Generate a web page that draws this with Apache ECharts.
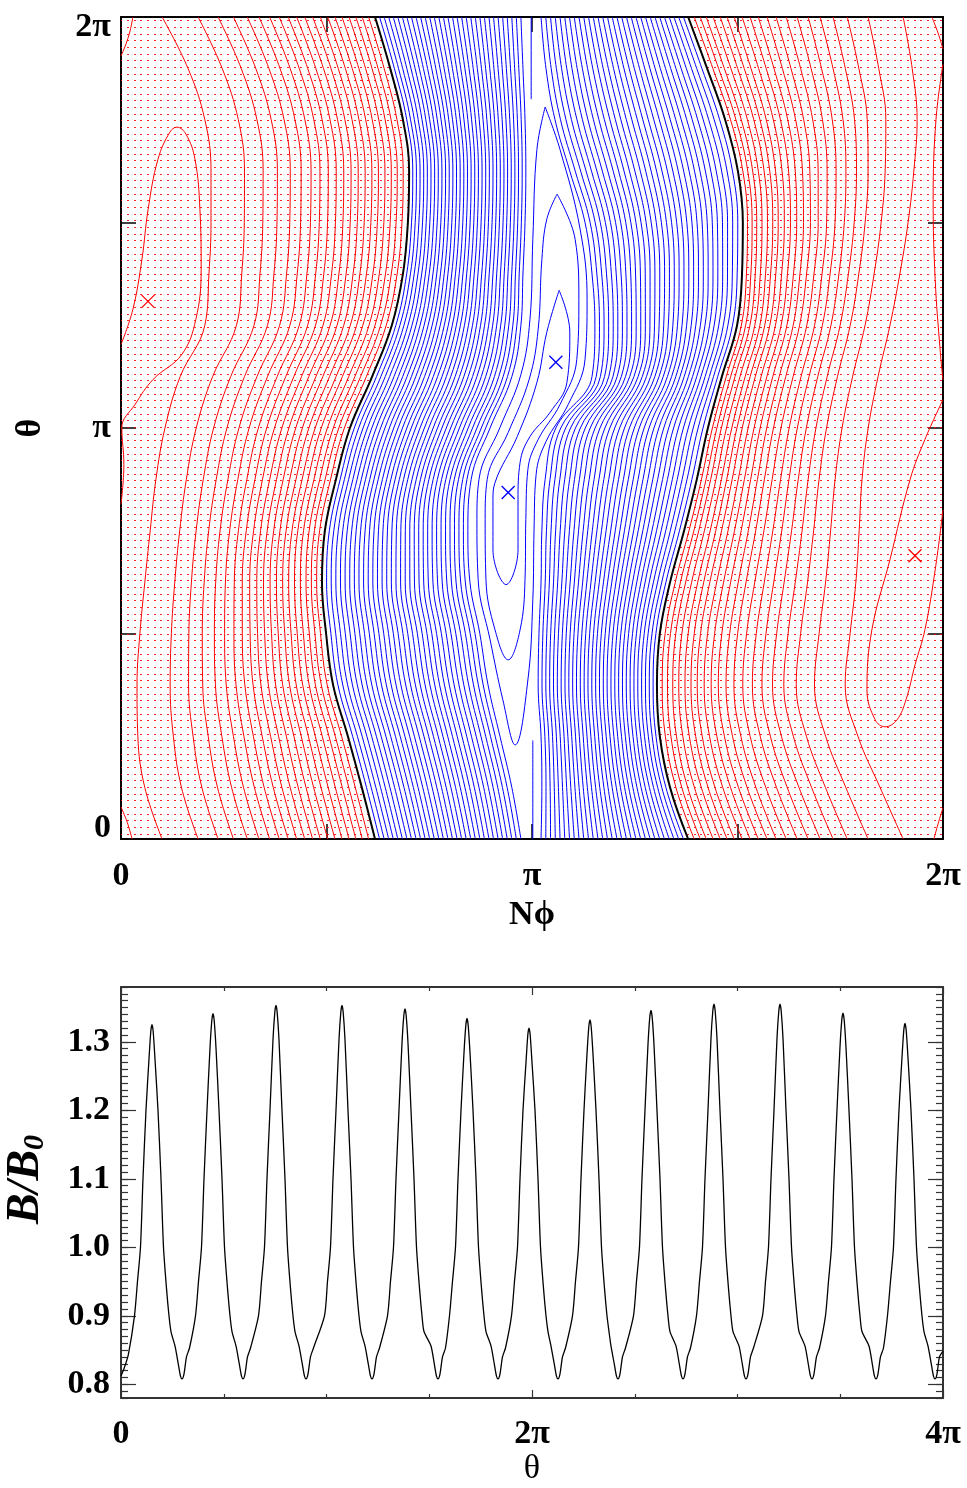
<!DOCTYPE html>
<html><head><meta charset="utf-8">
<script src="https://cdn.jsdelivr.net/npm/echarts@6/dist/echarts.min.js"></script>
<style>html,body{margin:0;padding:0;background:#fff}#c{width:967px;height:1488px}</style>
</head><body><div id="c"></div>
<script>
// ---------------- TOP PANEL DATA (Nphi/pi, theta/pi) ----------------
const thetaSamples = [0,0.125,0.25,0.375,0.5,0.625,0.75,0.875,1,1.125,1.25,1.375,1.5,1.625,1.75,1.875,2];
const sepLeft  = [0.618,0.586,0.552,0.516,0.499,0.489,0.496,0.523,0.557,0.611,0.659,0.686,0.698,0.701,0.686,0.655,0.618];
const sepRight = [1.380,1.336,1.311,1.304,1.311,1.336,1.370,1.401,1.428,1.462,1.499,1.511,1.513,1.501,1.470,1.426,1.380];
const blueInnerLeft  = [0.973,0.951,0.922,0.893,0.873,0.849,0.844,0.852,0.898,0.951,0.973,0.978,0.983,0.985,0.983,0.978,0.973];
const blueInnerRight = [1.022,1.024,1.022,1.015,1.017,1.022,1.024,1.032,1.058,1.146,1.153,1.146,1.129,1.092,1.056,1.034,1.022];
const redOuterLeft  = [0.100,0.058,0.041,0.039,0.046,0.058,0.071,0.085,0.107,0.144,0.204,0.214,0.219,0.219,0.204,0.163,0.100];
const redOuterRight = [1.903,1.847,1.793,1.762,1.774,1.788,1.796,1.803,1.818,1.842,1.871,1.895,1.915,1.929,1.937,1.925,1.903];
const blueLevelsLeft = 32;   // contour count between left separatrix and inner left line
const blueLevelsRight = 31;
const redFracLeft  = [0.03,0.06,0.09,0.122,0.155,0.188,0.222,0.257,0.293,0.33,0.368,0.408,0.45,0.495,0.545,0.60,0.665,0.737,0.831,1.0];
const redFracRight = [0.028,0.056,0.084,0.116,0.149,0.181,0.214,0.251,0.288,0.326,0.367,0.409,0.456,0.507,0.558,0.614,0.674,0.74,0.837,1.0];
const blueLoops = [
  [[1.066,1.335],[1.092,1.233],[1.085,1.111],[1.044,1.038],[0.995,0.979],[0.971,0.916],[0.966,0.826],[0.966,0.704],[0.937,0.619],[0.905,0.704],[0.905,0.826],[0.910,0.867],[0.964,0.979],[1.012,1.111],[1.036,1.233],[1.066,1.335]],
  [[1.061,1.569],[1.105,1.459],[1.114,1.313],[1.109,1.167],[1.068,1.057],[1.015,0.972],[0.990,0.899],[0.985,0.777],[0.983,0.631],[0.971,0.509],[0.942,0.436],[0.910,0.509],[0.888,0.631],[0.886,0.777],[0.891,0.875],[0.942,0.989],[0.993,1.118],[1.015,1.240],[1.024,1.410],[1.036,1.508],[1.061,1.569]],
  [[1.032,1.781],[1.068,1.678],[1.117,1.484],[1.134,1.313],[1.129,1.167],[1.088,1.057],[1.034,0.967],[1.010,0.887],[1.005,0.753],[1.002,0.582],[0.990,0.387],[0.959,0.229],[0.929,0.339],[0.898,0.485],[0.869,0.631],[0.866,0.777],[0.871,0.875],[0.922,1.001],[0.973,1.130],[0.995,1.264],[1.002,1.459],[1.012,1.678],[1.032,1.781]]
];
const blueCenterPieces = [
  [[0.998,1.80],[0.998,2.0]],
  [[1.002,0.0],[1.002,0.24]]
];
const redEdgePieces = [
  [[0,1.905],[0.012,1.934],[0.022,1.966],[0.029,2.0]],
  [[0,0.078],[0.015,0.041],[0.027,0]],
  [[1.973,2.0],[1.988,1.961],[2.0,1.922]],
  [[2.0,0.076],[1.988,0.037],[1.978,0]],
  [[0,1.203],[0.029,1.289],[0.051,1.411],[0.066,1.532],[0.090,1.654],[0.119,1.720],[0.136,1.732],[0.158,1.715],[0.180,1.654],[0.192,1.532],[0.195,1.386],[0.182,1.264],[0.148,1.179],[0.078,1.118],[0.034,1.057],[0.002,1.001],[0.007,0.911],[0,0.814]],
  [[2.0,1.069],[1.956,0.972],[1.920,0.875],[1.871,0.680],[1.827,0.509],[1.815,0.363],[1.835,0.290],[1.859,0.273],[1.888,0.290],[1.910,0.339],[1.932,0.424],[1.956,0.509],[1.981,0.655],[2.0,0.801]],
  [[2.0,1.885],[1.983,1.751],[1.976,1.556],[1.981,1.361],[1.993,1.190],[2.0,1.117]]
];
const redMarkers = [[0.0657,1.308],[1.932,0.689]];
const blueMarkers = [[1.058,1.160],[0.942,0.843]];
const topTickValues = [0,0.5,1,1.5,2];
const topTickLabels = ['0','','π','','2π'];

// ---------------- BOTTOM PANEL DATA (theta/pi, B/B0) ----------------
const bTickValuesX = [0,2,4];
const bTickLabelsX = ['0','2π','4π'];
const bTickValuesY = [0.8,0.9,1.0,1.1,1.2,1.3];
const bTickLabelsY = ['0.8','0.9','1.0','1.1','1.2','1.3'];
const bCurve = [[0,0.812],[0.0170,0.825],[0.0355,0.843],[0.0656,0.90],[0.0802,0.95],[0.0948,1.00],[0.1070,1.10],
[0.1216,1.20],[0.1362,1.275],[0.1450,1.315],[0.1508,1.325],[0.1566,1.315],[0.1654,1.275],[0.1800,1.20],[0.1946,1.10],[0.2068,1.00],[0.2214,0.94],[0.2335,0.90],[0.2433,0.877],[0.2627,0.856],[0.2798,0.828],[0.2895,0.812],[0.2968,0.808],[0.3065,0.815],[0.3187,0.84],[0.3333,0.853],[0.3625,0.90],[0.3771,0.95],[0.3917,1.00],[0.4039,1.10],
[0.4185,1.20],[0.4331,1.291],[0.4419,1.331],[0.4477,1.341],[0.4535,1.331],[0.4623,1.291],[0.4769,1.20],[0.4915,1.10],[0.5037,1.00],[0.5183,0.94],[0.5304,0.90],[0.5402,0.877],[0.5596,0.856],[0.5767,0.828],[0.5864,0.812],[0.5937,0.808],[0.6034,0.815],[0.6156,0.84],[0.6302,0.853],[0.6690,0.90],[0.6836,0.95],[0.6982,1.00],[0.7104,1.10],
[0.7250,1.20],[0.7396,1.303],[0.7484,1.343],[0.7542,1.353],[0.7600,1.343],[0.7688,1.303],[0.7834,1.20],[0.7980,1.10],[0.8102,1.00],[0.8248,0.94],[0.8369,0.90],[0.8467,0.877],[0.8661,0.856],[0.8832,0.828],[0.8929,0.812],[0.9002,0.808],[0.9099,0.815],[0.9221,0.84],[0.9367,0.853],[0.9902,0.90],[1.0048,0.95],[1.0194,1.00],[1.0316,1.10],
[1.0462,1.20],[1.0608,1.303],[1.0696,1.343],[1.0754,1.353],[1.0812,1.343],[1.0900,1.303],[1.1046,1.20],[1.1192,1.10],[1.1314,1.00],[1.1460,0.94],[1.1581,0.90],[1.1679,0.877],[1.1873,0.856],[1.2044,0.828],[1.2141,0.812],[1.2214,0.808],[1.2311,0.815],[1.2433,0.84],[1.2579,0.853],[1.2968,0.90],[1.3114,0.95],[1.3260,1.00],[1.3382,1.10],
[1.3528,1.20],[1.3674,1.298],[1.3762,1.338],[1.3820,1.348],[1.3878,1.338],[1.3966,1.298],[1.4112,1.20],[1.4258,1.10],[1.4380,1.00],[1.4526,0.94],[1.4647,0.90],[1.4745,0.877],[1.5084,0.856],[1.5255,0.828],[1.5352,0.812],[1.5425,0.808],[1.5522,0.815],[1.5644,0.84],[1.5790,0.853],[1.5985,0.90],[1.6131,0.95],[1.6277,1.00],[1.6399,1.10],
[1.6545,1.20],[1.6691,1.284],[1.6779,1.324],[1.6837,1.334],[1.6895,1.324],[1.6983,1.284],[1.7129,1.20],[1.7275,1.10],[1.7397,1.00],[1.7543,0.94],[1.7664,0.90],[1.7762,0.877],[1.8004,0.856],[1.8175,0.828],[1.8272,0.812],[1.8345,0.808],[1.8442,0.815],[1.8564,0.84],[1.8710,0.853],[1.9002,0.90],[1.9148,0.95],[1.9294,1.00],[1.9416,1.10],
[1.9562,1.20],[1.9708,1.270],[1.9796,1.310],[1.9854,1.320],[1.9912,1.310],[2.0000,1.270],[2.0146,1.20],[2.0292,1.10],[2.0414,1.00],[2.0560,0.94],[2.0681,0.90],[2.0779,0.877],[2.0923,0.856],[2.1094,0.828],[2.1191,0.812],[2.1264,0.808],[2.1361,0.815],[2.1483,0.84],[2.1629,0.853],[2.1970,0.90],[2.2116,0.95],[2.2262,1.00],[2.2384,1.10],
[2.2530,1.20],[2.2676,1.282],[2.2764,1.322],[2.2822,1.332],[2.2880,1.322],[2.2968,1.282],[2.3114,1.20],[2.3260,1.10],[2.3382,1.00],[2.3528,0.94],[2.3649,0.90],[2.3747,0.877],[2.3843,0.856],[2.4014,0.828],[2.4111,0.812],[2.4184,0.808],[2.4281,0.815],[2.4403,0.84],[2.4549,0.853],[2.4938,0.90],[2.5084,0.95],[2.5230,1.00],[2.5352,1.10],
[2.5498,1.20],[2.5644,1.296],[2.5732,1.336],[2.5790,1.346],[2.5848,1.336],[2.5936,1.296],[2.6082,1.20],[2.6228,1.10],[2.6350,1.00],[2.6496,0.94],[2.6617,0.90],[2.6715,0.877],[2.7006,0.856],[2.7177,0.828],[2.7274,0.812],[2.7347,0.808],[2.7444,0.815],[2.7566,0.84],[2.7712,0.853],[2.8004,0.90],[2.8150,0.95],[2.8296,1.00],[2.8418,1.10],
[2.8564,1.20],[2.8710,1.305],[2.8798,1.345],[2.8856,1.355],[2.8914,1.345],[2.9002,1.305],[2.9148,1.20],[2.9294,1.10],[2.9416,1.00],[2.9562,0.94],[2.9683,0.90],[2.9781,0.877],[3.0072,0.856],[3.0243,0.828],[3.0340,0.812],[3.0413,0.808],[3.0510,0.815],[3.0632,0.84],[3.0778,0.853],[3.1216,0.90],[3.1362,0.95],[3.1508,1.00],[3.1630,1.10],
[3.1776,1.20],[3.1922,1.305],[3.2010,1.345],[3.2068,1.355],[3.2126,1.345],[3.2214,1.305],[3.2360,1.20],[3.2506,1.10],[3.2628,1.00],[3.2774,0.94],[3.2895,0.90],[3.2993,0.877],[3.3283,0.856],[3.3454,0.828],[3.3551,0.812],[3.3624,0.808],[3.3721,0.815],[3.3843,0.84],[3.3989,0.853],[3.4281,0.90],[3.4427,0.95],[3.4573,1.00],[3.4695,1.10],
[3.4841,1.20],[3.4987,1.292],[3.5075,1.332],[3.5133,1.342],[3.5191,1.332],[3.5279,1.292],[3.5425,1.20],[3.5571,1.10],[3.5693,1.00],[3.5839,0.94],[3.5960,0.90],[3.6058,0.877],[3.6397,0.856],[3.6568,0.828],[3.6665,0.812],[3.6738,0.808],[3.6835,0.815],[3.6957,0.84],[3.7103,0.853],[3.7298,0.90],[3.7444,0.95],[3.7590,1.00],[3.7712,1.10],
[3.7858,1.20],[3.8004,1.277],[3.8092,1.317],[3.8150,1.327],[3.8208,1.317],[3.8296,1.277],[3.8442,1.20],[3.8588,1.10],[3.8710,1.00],[3.8856,0.94],[3.8977,0.90],[3.9075,0.877],[3.9269,0.856],[3.9440,0.828],[3.9537,0.812],[3.9610,0.808],[3.9707,0.815],[3.9829,0.84],[4.0,0.848]];

// ---------------- BUILD ----------------
const FONT = 'Liberation Serif';
const chart = echarts.init(document.getElementById('c'), null, {renderer:'canvas'});

function blend(a, b, f){ return a.map((x,i)=>[x+(b[i]-x)*f, thetaSamples[i]]); }
function curve(a){ return a.map((x,i)=>[x, thetaSamples[i]]); }

const series = [];
const pc = document.createElement('canvas'); pc.width = 20; pc.height = 20;
const pg = pc.getContext('2d'); pg.fillStyle = 'rgba(255,0,0,0.85)';
[0,7,14].forEach(y=>[0,7,14].forEach(x=>pg.fillRect(x,y,2,1)));
const leftPoly = [[0,0]].concat(curve(sepLeft)).concat([[0,2]]);
const rightPoly = [[2,0]].concat(curve(sepRight)).concat([[2,2]]);
series.push({type:'custom', xAxisIndex:0, yAxisIndex:0, z:1, silent:true, clip:true, data:[[0,0]],
  renderItem:(params, api)=>({type:'group', children:[leftPoly, rightPoly].map(poly=>({
    type:'polygon', shape:{points: poly.map(p=>api.coord(p))},
    style:{fill:{image:pc, repeat:'repeat'}, stroke:null}}))})});

function lineSeries(pts, color, width, z){
  return {type:'line', xAxisIndex:0, yAxisIndex:0, data:pts, symbol:'none', smooth:0.4, silent:true, z:z||2,
    lineStyle:{color:color, width:width||1}, animation:false};
}
for(let k=1;k<=blueLevelsLeft;k++) series.push(lineSeries(blend(sepLeft, blueInnerLeft, k/blueLevelsLeft), '#0000ff', 1));
for(let k=1;k<=blueLevelsRight;k++) series.push(lineSeries(blend(sepRight, blueInnerRight, k/blueLevelsRight), '#0000ff', 1));
blueLoops.forEach(l=>series.push(lineSeries(l, '#0000ff', 1)));
blueCenterPieces.forEach(l=>series.push(lineSeries(l, '#0000ff', 1)));
redFracLeft.forEach(f=>series.push(lineSeries(blend(sepLeft, redOuterLeft, f), '#ff0000', 1)));
redFracRight.forEach(f=>series.push(lineSeries(blend(sepRight, redOuterRight, f), '#ff0000', 1)));
redEdgePieces.forEach(l=>series.push(lineSeries(l, '#ff0000', 1)));
series.push(lineSeries(curve(sepLeft), '#000000', 2, 5));
series.push(lineSeries(curve(sepRight), '#000000', 2, 5));
function markerSeries(pts, color){
  return {type:'custom', xAxisIndex:0, yAxisIndex:0, z:6, silent:true, data:pts,
    renderItem:(params, api)=>{ const c = api.coord([api.value(0), api.value(1)]); const s=6.5;
      return {type:'group', children:[
        {type:'line', shape:{x1:c[0]-s,y1:c[1]-s,x2:c[0]+s,y2:c[1]+s}, style:{stroke:color, lineWidth:1.3}},
        {type:'line', shape:{x1:c[0]-s,y1:c[1]+s,x2:c[0]+s,y2:c[1]-s}, style:{stroke:color, lineWidth:1.3}}]}; }};
}
series.push(markerSeries(redMarkers, '#ff0000'));
series.push(markerSeries(blueMarkers, '#0000ff'));
series.push({type:'line', xAxisIndex:2, yAxisIndex:2, data:bCurve, symbol:'none', smooth:0.25, silent:true,
  lineStyle:{color:'#000', width:1.3}, animation:false, z:3});

function lbl(v, vals, labs){ for(let i=0;i<vals.length;i++) if(Math.abs(v-vals[i])<1e-6) return labs[i]; return ''; }
const labelFont = {fontFamily:FONT, fontWeight:'bold', fontSize:34, color:'#000'};
const axLine = {show:true, onZero:false, lineStyle:{color:'#000', width:2}};
const tickTop = {show:true, inside:true, length:15, lineStyle:{color:'#000', width:1.5}};
const axLineB = {show:true, onZero:false, lineStyle:{color:'#333', width:2}};
const minorY = []; for(let i=0;i<=60;i++) minorY.push(Math.round((0.78+i*0.01)*100)/100);

const option = {
  animation:false,
  backgroundColor:'#fff',
  grid:[
    {left:121, top:17, width:822, height:822, containLabel:false, outerBoundsMode:'none'},
    {left:121, top:987, width:822, height:411, containLabel:false, outerBoundsMode:'none'},
    {left:121, top:987, width:822, height:411, containLabel:false, outerBoundsMode:'none'}
  ],
  xAxis:[
    {type:'value', gridIndex:0, position:'bottom', min:0, max:2, interval:0.5, axisLine:axLine, axisTick:tickTop, splitLine:{show:false},
     axisLabel:Object.assign({margin:20, formatter:v=>lbl(v, topTickValues, topTickLabels)}, labelFont),
     name:'Nϕ', nameLocation:'middle', nameGap:52, nameTextStyle:{fontFamily:FONT, fontWeight:'bold', fontSize:34, color:'#000'}},
    {type:'value', gridIndex:0, position:'top', min:0, max:2, interval:0.5, axisLine:axLine, axisTick:tickTop, splitLine:{show:false}, axisLabel:{show:false}},
    {type:'value', gridIndex:1, position:'bottom', min:0, max:4, interval:2, axisLine:axLineB,
     axisTick:{show:true, inside:true, length:8, lineStyle:{color:'#333', width:1.2}},
     minorTick:{show:true, splitNumber:4, length:4, lineStyle:{color:'#333', width:1.2}}, splitLine:{show:false}, minorSplitLine:{show:false},
     axisLabel:Object.assign({margin:19, formatter:v=>lbl(v, bTickValuesX, bTickLabelsX)}, labelFont),
     name:'θ', nameLocation:'middle', nameGap:54, nameTextStyle:{fontFamily:FONT, fontWeight:'normal', fontSize:34, color:'#000'}},
    {type:'value', gridIndex:1, position:'top', min:0, max:4, interval:2, axisLine:axLineB,
     axisTick:{show:true, inside:true, length:8, lineStyle:{color:'#333', width:1.2}},
     minorTick:{show:true, splitNumber:4, length:4, lineStyle:{color:'#333', width:1.2}}, splitLine:{show:false}, axisLabel:{show:false}},
    {type:'value', gridIndex:2, min:0, max:4, show:false}
  ],
  yAxis:[
    {type:'value', gridIndex:0, position:'left', min:0, max:2, interval:0.5, axisLine:axLine, axisTick:tickTop, splitLine:{show:false},
     axisLabel:Object.assign({margin:10, formatter:v=>{const s=lbl(v, topTickValues, topTickLabels); if(v>1.9) return '{t|'+s+'}'; if(v<0.1) return '{b|'+s+'}'; return s;},
       rich:{t:Object.assign({padding:[20,0,0,0]}, labelFont), b:Object.assign({padding:[0,0,22,0]}, labelFont)}}, labelFont),
     name:'θ', nameLocation:'middle', nameGap:72, nameRotate:90, nameTextStyle:{fontFamily:FONT, fontWeight:'bold', fontSize:36, color:'#000'}},
    {type:'value', gridIndex:0, position:'right', min:0, max:2, interval:0.5, axisLine:axLine, axisTick:tickTop, splitLine:{show:false}, axisLabel:{show:false}},
    {type:'value', gridIndex:1, position:'left', min:0.78, max:1.38, axisLine:axLineB,
     axisTick:{show:true, inside:true, length:15, customValues:bTickValuesY, lineStyle:{color:'#333', width:1.2}}, splitLine:{show:false},
     axisLabel:Object.assign({margin:11, customValues:bTickValuesY, formatter:v=>lbl(v, bTickValuesY, bTickLabelsY)}, labelFont),
     name:'{i|B/B}{s|0}', nameLocation:'middle', nameGap:71, nameRotate:90,
     nameTextStyle:{padding:[0,0,0,26], rich:{i:{fontFamily:FONT, fontWeight:'bold', fontStyle:'italic', fontSize:46, color:'#000'},
                          s:{fontFamily:FONT, fontWeight:'bold', fontStyle:'italic', fontSize:30, color:'#000', padding:[18,0,0,0]}}}},
    {type:'value', gridIndex:1, position:'right', min:0.78, max:1.38, axisLine:axLineB,
     axisTick:{show:true, inside:true, length:15, customValues:bTickValuesY, lineStyle:{color:'#333', width:1.2}}, splitLine:{show:false}, axisLabel:{show:false}},
    {type:'value', gridIndex:2, position:'left', min:0.78, max:1.38, axisLine:{show:false},
     axisTick:{show:true, inside:true, length:7, customValues:minorY, lineStyle:{color:'#333', width:1.2}}, splitLine:{show:false}, axisLabel:{show:false}},
    {type:'value', gridIndex:2, position:'right', min:0.78, max:1.38, axisLine:{show:false},
     axisTick:{show:true, inside:true, length:7, customValues:minorY, lineStyle:{color:'#333', width:1.2}}, splitLine:{show:false}, axisLabel:{show:false}}
  ],
  series: series
};
chart.setOption(option);
</script>
</body></html>
